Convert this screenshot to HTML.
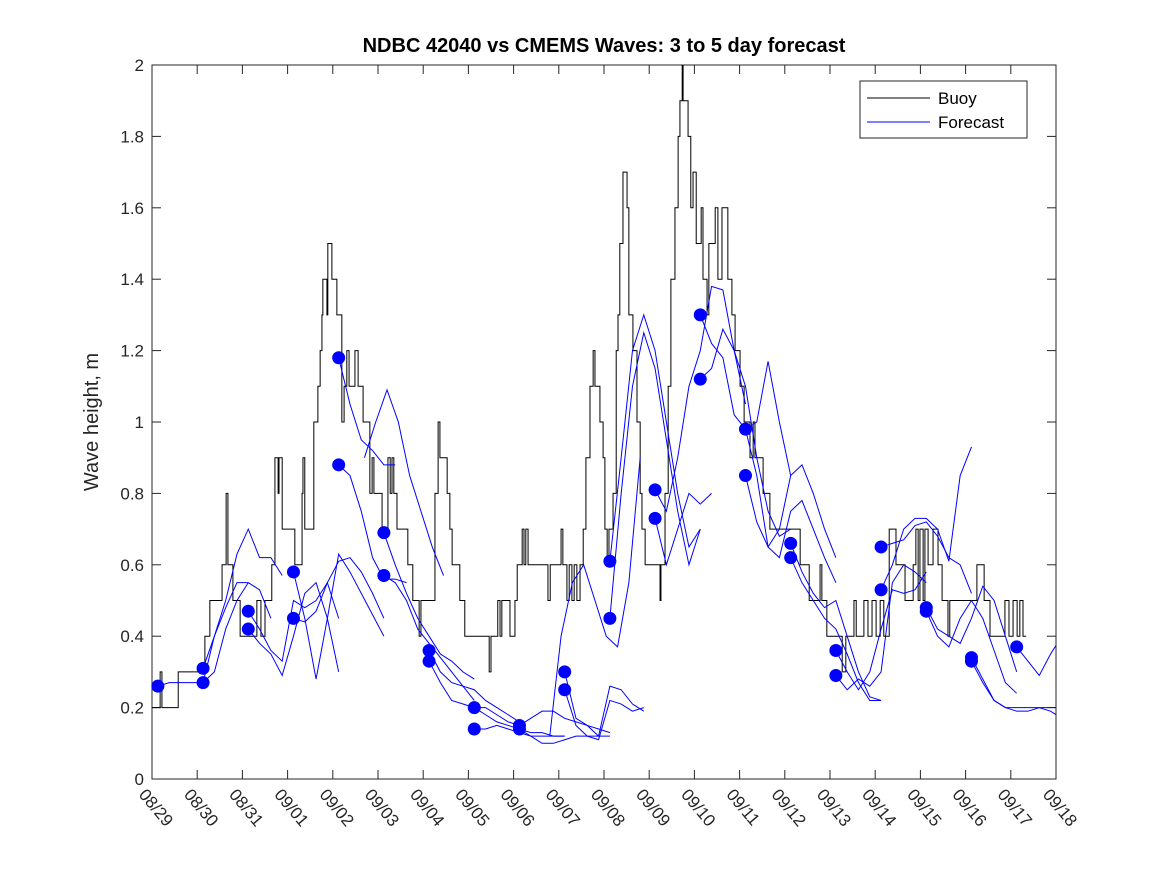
<!DOCTYPE html>
<html><head><meta charset="utf-8"><style>
html,body{margin:0;padding:0;background:#fff;}
svg{display:block;font-family:"Liberation Sans","DejaVu Sans",sans-serif;}
</style></head><body>
<svg id="chart" width="1167" height="875" viewBox="0 0 1167 875">
<defs><clipPath id="pc"><rect x="152" y="65" width="904" height="714"/></clipPath></defs>
<rect x="0" y="0" width="1167" height="875" fill="#fff"/>
<g id="plot"></g>
</svg>
<script>
const dateLabels=["08/29","08/30","08/31","09/01","09/02","09/03","09/04","09/05","09/06","09/07","09/08","09/09","09/10","09/11","09/12","09/13","09/14","09/15","09/16","09/17","09/18"];
const yTicks=[0,0.2,0.4,0.6,0.8,1,1.2,1.4,1.6,1.8,2];
const yTickLabels=["0","0.2","0.4","0.6","0.8","1","1.2","1.4","1.6","1.8","2"];
const buoyT=[0,0.18,0.22,0.58,1.17,1.28,1.55,1.64,1.68,1.79,1.95,2.32,2.41,2.50,2.65,2.72,2.79,2.81,2.88,3.16,3.32,3.34,3.38,3.58,3.67,3.72,3.76,3.78,3.87,3.89,3.98,4.09,4.20,4.25,4.31,4.36,4.49,4.56,4.67,4.82,4.87,4.91,5.09,5.22,5.27,5.31,5.35,5.42,5.66,5.77,5.91,5.95,6.26,6.33,6.37,6.53,6.59,6.64,6.81,6.92,7.46,7.50,7.65,7.70,7.74,7.92,8.03,8.08,8.19,8.23,8.27,8.32,8.76,8.81,9.05,9.09,9.18,9.23,9.29,9.34,9.40,9.47,9.54,9.60,9.69,9.76,9.80,9.91,9.98,10.02,10.07,10.11,10.20,10.27,10.31,10.35,10.42,10.51,10.55,10.64,10.73,10.80,10.84,10.91,11.24,11.26,11.35,11.42,11.48,11.57,11.64,11.68,11.73,11.75,11.86,11.92,11.97,12.04,12.15,12.19,12.28,12.32,12.46,12.52,12.61,12.74,12.83,12.90,13.01,13.10,13.23,13.30,13.34,13.52,13.67,13.89,14.34,14.54,14.78,14.82,14.93,15.27,15.35,15.53,15.58,15.75,15.84,15.93,16.02,16.11,16.19,16.31,16.46,16.66,16.84,16.90,16.95,16.99,17.06,17.10,17.17,17.28,17.39,17.48,17.61,17.65,18.25,18.41,18.54,18.87,18.96,19.05,19.14,19.20,19.27,19.34];
const buoyV=[0.2,0.3,0.2,0.3,0.4,0.5,0.6,0.8,0.6,0.5,0.4,0.5,0.4,0.5,0.6,0.9,0.8,0.9,0.7,0.6,0.8,0.9,0.7,1.0,1.1,1.2,1.3,1.4,1.3,1.5,1.4,1.3,1.0,1.1,1.2,1.1,1.2,1.1,1.0,0.8,0.9,0.8,0.7,0.9,0.8,0.9,0.8,0.7,0.6,0.5,0.4,0.5,0.8,1.0,0.9,0.8,0.7,0.6,0.5,0.4,0.3,0.4,0.5,0.4,0.5,0.4,0.5,0.6,0.7,0.6,0.7,0.6,0.5,0.6,0.7,0.6,0.5,0.6,0.5,0.6,0.5,0.6,0.7,0.9,1.1,1.2,1.1,1.0,0.9,0.7,0.6,0.7,0.8,1.2,1.3,1.5,1.7,1.6,1.3,1.2,1.0,0.8,0.7,0.6,0.5,0.6,0.8,1.1,1.4,1.6,1.8,1.9,2.0,1.9,1.8,1.6,1.7,1.5,1.6,1.4,1.3,1.5,1.6,1.4,1.6,1.4,1.3,1.2,1.1,1.0,0.9,1.0,0.9,0.8,0.7,0.7,0.6,0.5,0.6,0.5,0.4,0.3,0.4,0.5,0.4,0.5,0.4,0.5,0.4,0.5,0.4,0.7,0.6,0.5,0.6,0.7,0.5,0.7,0.5,0.7,0.6,0.7,0.6,0.5,0.4,0.5,0.6,0.5,0.4,0.5,0.4,0.5,0.4,0.5,0.4,0.4];
const runStart=[0.13,1.13,1.13,2.13,2.13,3.13,3.13,4.13,4.13,4.7,5.13,5.13,6.13,6.13,7.13,7.13,8.13,8.13,9.13,9.13,8.8,10.13,10.13,11.13,11.13,12.13,12.13,13.13,13.13,14.13,14.13,15.13,15.13,16.13,16.13,17.13,17.13,18.13,18.13,19.13];
const runVals=[
[0.26,0.27,0.27,0.27,0.27,0.3,0.42,0.5,0.55],
[0.31,0.40,0.50,0.63,0.70,0.62,0.62,0.57],
[0.27,0.40,0.48,0.55,0.55,0.53,0.45],
[0.47,0.42,0.36,0.33,0.50,0.48,0.50,0.55,0.45],
[0.42,0.38,0.35,0.29,0.40,0.52,0.55,0.45,0.30],
[0.58,0.45,0.28,0.45,0.63,0.58,0.52,0.46,0.40],
[0.45,0.44,0.47,0.55,0.61,0.62,0.58,0.52,0.45],
[1.18,1.05,0.95,0.92,0.88,0.88],
[0.88,0.85,0.75,0.62,0.56,0.56,0.55],
[0.9,1.0,1.09,1.0,0.85,0.75,0.65,0.57],
[0.69,0.60,0.52,0.45,0.40,0.35,0.33,0.30,0.28],
[0.57,0.55,0.50,0.42,0.38,0.34,0.30,0.26,0.22],
[0.36,0.30,0.27,0.26,0.25,0.22,0.20,0.18,0.16],
[0.33,0.27,0.22,0.21,0.20,0.20,0.18,0.16,0.15],
[0.20,0.18,0.16,0.15,0.14,0.13,0.13,0.12,0.12],
[0.14,0.14,0.15,0.14,0.13,0.12,0.12,0.12,0.12],
[0.15,0.17,0.19,0.19,0.17,0.16,0.15,0.14,0.13],
[0.14,0.12,0.10,0.10,0.11,0.12,0.12,0.12,0.12],
[0.30,0.17,0.15,0.12,0.26,0.25,0.21,0.19],
[0.25,0.15,0.12,0.11,0.22,0.21,0.19,0.20],
[0.12,0.40,0.55,0.60,0.50,0.40,0.37,0.55,0.90],
[0.61,0.90,1.20,1.30,1.20,1.00,0.80,0.65,0.70],
[0.45,0.80,1.10,1.25,1.15,0.95,0.75,0.60,0.70],
[0.81,0.75,0.90,1.10,1.20,1.38,1.37,1.20,1.05],
[0.73,0.60,0.70,0.80,0.77,0.80],
[1.30,1.22,1.18,1.02,0.98,1.00,1.17,1.00,0.85],
[1.12,1.15,1.26,1.20,1.10,0.90,0.75,0.68,0.70],
[0.98,0.85,0.65,0.62,0.75,0.78,0.70,0.62,0.55],
[0.85,0.72,0.65,0.70,0.85,0.88,0.80,0.70,0.62],
[0.66,0.58,0.52,0.48,0.50,0.40,0.30,0.23,0.22],
[0.62,0.55,0.50,0.45,0.42,0.35,0.27,0.22,0.22],
[0.36,0.30,0.25,0.30,0.42,0.53,0.52,0.53,0.58],
[0.29,0.25,0.28,0.26,0.30,0.55,0.60,0.58,0.55],
[0.65,0.66,0.67,0.71,0.72,0.68,0.62,0.60,0.52],
[0.53,0.60,0.70,0.73,0.73,0.70,0.61,0.85,0.93],
[0.48,0.42,0.40,0.38,0.45,0.54,0.50,0.40,0.30],
[0.47,0.40,0.37,0.45,0.50,0.45,0.36,0.27,0.24],
[0.34,0.28,0.22,0.20,0.20,0.20,0.20,0.19,0.17],
[0.33,0.27,0.22,0.20,0.19,0.19,0.20,0.20,0.20],
[0.37,0.33,0.29,0.35,0.40,0.40]];
const dotMask=[1,1,1,1,1,1,1,1,1,0,1,1,1,1,1,1,1,1,1,1,0,1,1,1,1,1,1,1,1,1,1,1,1,1,1,1,1,1,1,1];

const L=152,R=1056,T=65,B=779;
const X=d=>L+(R-L)*d/20;
const Y=v=>B-(B-T)*v/2;
const NS="http://www.w3.org/2000/svg";
const g=document.getElementById('plot');
function mk(tag,attrs,parent){const e=document.createElementNS(NS,tag);for(const k in attrs)e.setAttribute(k,attrs[k]);(parent||g).appendChild(e);return e;}

const frame=mk('rect',{x:L,y:T,width:R-L,height:B-T,fill:'#fff',stroke:'#262626','stroke-width':1});



yTicks.forEach((v,i)=>{
  const y=Y(v);
  mk('line',{x1:L,y1:y,x2:L+9,y2:y,stroke:'#262626'});
  mk('line',{x1:R,y1:y,x2:R-9,y2:y,stroke:'#262626'});
  const t=mk('text',{x:L-8,y:y+6,'text-anchor':'end','font-size':17,fill:'#262626'});
  t.textContent=yTickLabels[i];
  
  
});
dateLabels.forEach((s,i)=>{
  const x=X(i);
  mk('line',{x1:x,y1:B,x2:x,y2:B-9,stroke:'#262626'});
  mk('line',{x1:x,y1:T,x2:x,y2:T+9,stroke:'#262626'});
  const t=mk('text',{x:x-14,y:B+16,'font-size':17,fill:'#262626',transform:`rotate(50 ${x-14} ${B+16})`});
  t.textContent=s;
  
  
});

const clip=mk('g',{'clip-path':'url(#pc)'});



let d='';
for(let i=0;i<buoyT.length;i++){
  const x=X(buoyT[i]),y=Y(buoyV[i]);
  if(i===0)d+=`M${x},${y}`;else d+=`H${x}V${y}`;
}
const bp=mk('path',{d:d,fill:'none',stroke:'#000','stroke-width':1},clip);



runVals.forEach((vals,r)=>{
  const pts=vals.map((v,k)=>`${X(runStart[r]+k*0.25)},${Y(v)}`).join(' ');
  const p=mk('polyline',{points:pts,fill:'none',stroke:'#0000ff','stroke-width':1},clip);
  
  
});
runVals.forEach((vals,r)=>{
  if(dotMask[r]){
    const c=mk('circle',{cx:X(runStart[r]),cy:Y(vals[0]),r:6.5,fill:'#0000ff'});
    
    
  }
});

const title=mk('text',{x:604,y:52,'text-anchor':'middle','font-size':20,'font-weight':'bold',fill:'#000'});
title.textContent='NDBC 42040 vs CMEMS Waves: 3 to 5 day forecast';



const yl=mk('text',{x:98,y:422,'text-anchor':'middle','font-size':20,fill:'#262626',transform:'rotate(-90 98 422)'});
yl.textContent='Wave height, m';



const lg=mk('g',{});


mk('rect',{x:860,y:81,width:167,height:57,fill:'#fff',stroke:'#262626'},lg);
mk('line',{x1:867,y1:98,x2:930,y2:98,stroke:'#000'},lg);
mk('line',{x1:867,y1:122,x2:930,y2:122,stroke:'#0000ff'},lg);
const l1=mk('text',{x:938,y:104,'font-size':17,fill:'#000'},lg);l1.textContent='Buoy';


const l2=mk('text',{x:938,y:128,'font-size':17,fill:'#000'},lg);l2.textContent='Forecast';


</script>
</body></html>
